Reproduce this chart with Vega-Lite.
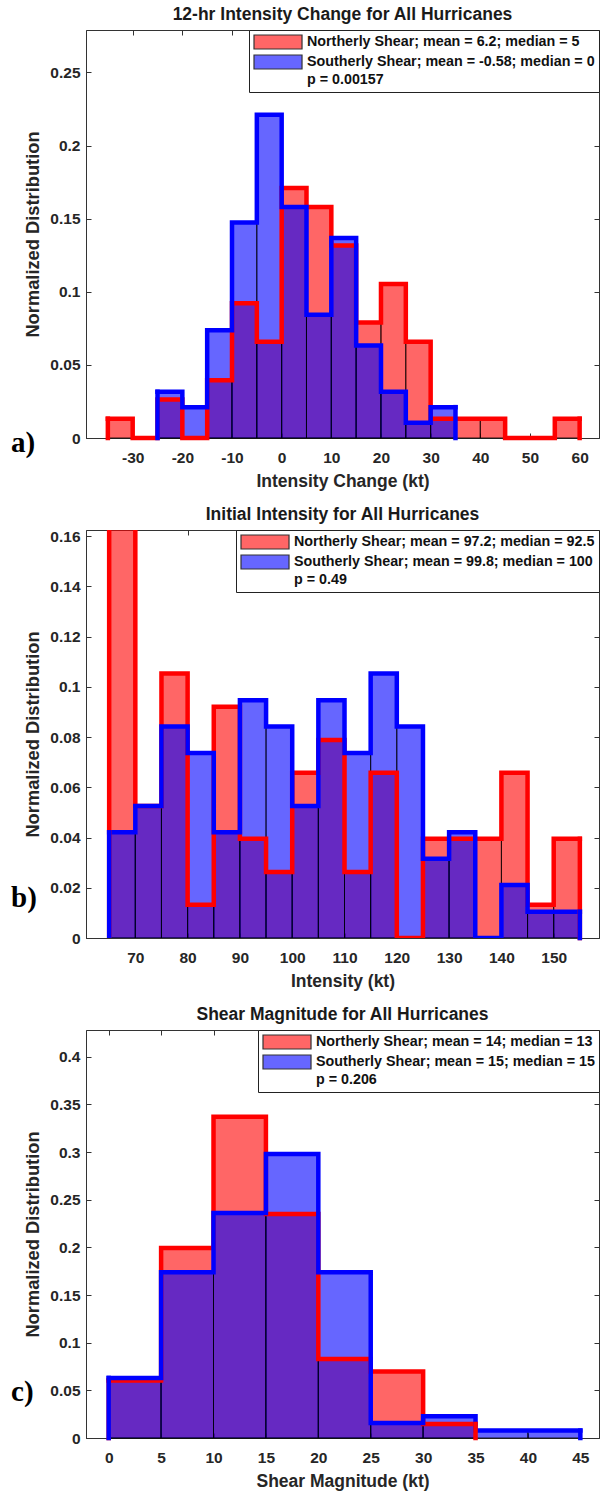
{
  "$schema": "https://vega.github.io/schema/vega-lite/v6.json",
  "padding": {"left": 10, "top": 5, "right": 2, "bottom": 0},
  "spacing": 14,
  "resolve": {
    "scale": {"color": "independent", "shape": "independent", "fill": "independent", "stroke": "independent"},
    "legend": {"color": "independent", "shape": "independent"}
  },
  "config": {
    "locale": {"number": {"decimal": ".", "thousands": ",", "grouping": [3], "currency": ["$", ""], "minus": "-"}},
    "view": {"stroke": "#333333", "strokeWidth": 1},
    "axis": {
      "labelFont": "Liberation Sans", "labelFontSize": 15.5, "labelFontWeight": "bold", "labelColor": "#262626",
      "titleFont": "Liberation Sans", "titleFontSize": 17.5, "titleFontWeight": "bold", "titleColor": "#262626",
      "grid": false, "domainColor": "#333333", "tickColor": "#333333", "tickSize": -5, "format": "~f"
    },
    "axisX": {"labelPadding": 17.6, "titlePadding": 6},
    "axisY": {"labelPadding": 11, "titlePadding": 7, "titleFontSize": 18.3},
    "title": {"font": "Liberation Sans", "fontSize": 17.5, "fontWeight": "bold", "color": "#1a1a1a", "offset": 6},
    "legend": {
      "orient": "top-right", "offset": 0, "title": null, "strokeColor": "#222222", "fillColor": "#ffffff",
      "padding": 4, "labelFont": "Liberation Sans", "labelFontSize": 14.3, "labelFontWeight": "bold", "labelColor": "#111111",
      "symbolSize": 196, "labelOffset": 38, "rowPadding": 0, "labelLimit": 600,
      "symbolStrokeWidth": 1.2
    }
  },
  "vconcat": [
    {
      "width": 513, "height": 408,
      "title": "12-hr Intensity Change for All Hurricanes",
      "resolve": {"axis": {"x": "independent", "y": "independent"}},
      "data": {"values": [
        {"s": "Northerly Shear", "x0": -35, "x1": -30, "v": 0.0132},
        {"s": "Northerly Shear", "x0": -30, "x1": -25, "v": 0},
        {"s": "Northerly Shear", "x0": -25, "x1": -20, "v": 0.0263},
        {"s": "Northerly Shear", "x0": -20, "x1": -15, "v": 0},
        {"s": "Northerly Shear", "x0": -15, "x1": -10, "v": 0.0395},
        {"s": "Northerly Shear", "x0": -10, "x1": -5, "v": 0.0921},
        {"s": "Northerly Shear", "x0": -5, "x1": 0, "v": 0.0658},
        {"s": "Northerly Shear", "x0": 0, "x1": 5, "v": 0.171},
        {"s": "Northerly Shear", "x0": 5, "x1": 10, "v": 0.1579},
        {"s": "Northerly Shear", "x0": 10, "x1": 15, "v": 0.1316},
        {"s": "Northerly Shear", "x0": 15, "x1": 20, "v": 0.0789},
        {"s": "Northerly Shear", "x0": 20, "x1": 25, "v": 0.1053},
        {"s": "Northerly Shear", "x0": 25, "x1": 30, "v": 0.0658},
        {"s": "Northerly Shear", "x0": 30, "x1": 35, "v": 0.0132},
        {"s": "Northerly Shear", "x0": 35, "x1": 40, "v": 0.0132},
        {"s": "Northerly Shear", "x0": 40, "x1": 45, "v": 0.0132},
        {"s": "Northerly Shear", "x0": 45, "x1": 50, "v": 0},
        {"s": "Northerly Shear", "x0": 50, "x1": 55, "v": 0},
        {"s": "Northerly Shear", "x0": 55, "x1": 60, "v": 0.0132},
        {"s": "Southerly Shear", "x0": -25, "x1": -20, "v": 0.0316},
        {"s": "Southerly Shear", "x0": -20, "x1": -15, "v": 0.0211},
        {"s": "Southerly Shear", "x0": -15, "x1": -10, "v": 0.0737},
        {"s": "Southerly Shear", "x0": -10, "x1": -5, "v": 0.1474},
        {"s": "Southerly Shear", "x0": -5, "x1": 0, "v": 0.2211},
        {"s": "Southerly Shear", "x0": 0, "x1": 5, "v": 0.1579},
        {"s": "Southerly Shear", "x0": 5, "x1": 10, "v": 0.0842},
        {"s": "Southerly Shear", "x0": 10, "x1": 15, "v": 0.1368},
        {"s": "Southerly Shear", "x0": 15, "x1": 20, "v": 0.0632},
        {"s": "Southerly Shear", "x0": 20, "x1": 25, "v": 0.0316},
        {"s": "Southerly Shear", "x0": 25, "x1": 30, "v": 0.0105},
        {"s": "Southerly Shear", "x0": 30, "x1": 35, "v": 0.0211}
      ]},
      "layer": [
        {
          "mark": {"type": "rect", "fillOpacity": 0.6, "stroke": "#000000", "strokeWidth": 0.8},
          "encoding": {
            "x": {"field": "x0", "type": "quantitative", "title": "Intensity Change (kt)",
                  "scale": {"domain": [-39.4, 63.9], "nice": false, "zero": false},
                  "axis": {"values": [-30, -20, -10, 0, 10, 20, 30, 40, 50, 60]}},
            "x2": {"field": "x1"},
            "y": {"field": "v", "type": "quantitative", "title": "Normalized Distribution",
                  "scale": {"domain": [0, 0.279], "nice": false},
                  "axis": {"values": [0, 0.05, 0.1, 0.15, 0.2, 0.25]}},
            "y2": {"datum": 0},
            "fill": {"field": "s", "type": "nominal", "scale": {"domain": ["Northerly Shear", "Southerly Shear"], "range": ["#ff0000", "#0000ff"]}, "legend": null}
          }
        },
        {
          "transform": [{"fold": ["x0", "x1"], "as": ["k", "xe"]}],
          "mark": {"type": "line", "strokeWidth": 4.5, "strokeJoin": "miter", "strokeCap": "square"},
          "encoding": {
            "x": {"field": "xe", "type": "quantitative", "axis": null},
            "y": {"field": "v", "type": "quantitative", "axis": null},
            "stroke": {"field": "s", "type": "nominal", "scale": {"domain": ["Northerly Shear", "Southerly Shear"], "range": ["#ff0000", "#0000ff"]}, "legend": null},
            "order": [{"field": "x0", "type": "quantitative"}, {"field": "k", "type": "ordinal"}]
          }
        },
        {
          "transform": [{"window": [{"op": "row_number", "as": "rn"}], "groupby": ["s"], "sort": [{"field": "x0", "order": "ascending"}]}, {"filter": "datum.rn == 1"}],
          "mark": {"type": "rule", "strokeWidth": 4.5, "strokeCap": "square"},
          "encoding": {
            "x": {"field": "x0", "type": "quantitative", "axis": null},
            "y": {"field": "v", "type": "quantitative", "axis": null}, "y2": {"datum": 0},
            "stroke": {"field": "s", "type": "nominal", "legend": null}
          }
        },
        {
          "transform": [{"window": [{"op": "row_number", "as": "rn"}], "groupby": ["s"], "sort": [{"field": "x0", "order": "descending"}]}, {"filter": "datum.rn == 1"}],
          "mark": {"type": "rule", "strokeWidth": 4.5, "strokeCap": "square"},
          "encoding": {
            "x": {"field": "x1", "type": "quantitative", "axis": null},
            "y": {"field": "v", "type": "quantitative", "axis": null}, "y2": {"datum": 0},
            "stroke": {"field": "s", "type": "nominal", "legend": null}
          }
        },
        {
          "data": {"values": []},
          "mark": {"type": "point", "filled": true, "opacity": 1, "stroke": "#333333", "strokeWidth": 1.2},
          "encoding": {
            "color": {"field": "s", "type": "nominal",
                      "scale": {"domain": ["Northerly Shear", "Southerly Shear", "p"], "range": ["#ff6666", "#6666ff", "#ffffff"]},
                      "legend": {"labelExpr": "datum.value == 'Northerly Shear' ? 'Northerly Shear; mean = 6.2; median = 5' : datum.value == 'Southerly Shear' ? 'Southerly Shear; mean = -0.58; median = 0' : 'p = 0.00157'"}},
            "shape": {"field": "s", "type": "nominal",
                      "scale": {"domain": ["Northerly Shear", "Southerly Shear", "p"], "range": ["M-1,-1H5.86V1H-1Z", "M-1,-1H5.86V1H-1Z", "M0,0L0,0"]},
                      "legend": {"labelExpr": "datum.value == 'Northerly Shear' ? 'Northerly Shear; mean = 6.2; median = 5' : datum.value == 'Southerly Shear' ? 'Southerly Shear; mean = -0.58; median = 0' : 'p = 0.00157'"}}
          }
        },
        {
          "data": {"values": [{"label": "a)"}]},
          "mark": {"type": "text", "font": "Liberation Serif", "fontSize": 29, "fontWeight": "bold", "align": "left", "baseline": "middle", "color": "#000000"},
          "encoding": {
            "x": {"datum": -54.5, "axis": {"orient": "top", "labels": false, "title": null, "domain": false, "values": [-30, -20, -10, 0, 10, 20, 30, 40, 50, 60]}},
            "y": {"datum": -0.0031, "axis": {"orient": "right", "labels": false, "title": null, "domain": false, "values": [0, 0.05, 0.1, 0.15, 0.2, 0.25]}},
            "text": {"field": "label"}
          }
        }
      ]
    },
    {
      "width": 513, "height": 408,
      "title": "Initial Intensity for All Hurricanes",
      "resolve": {"axis": {"x": "independent", "y": "independent"}},
      "data": {"values": [
        {"s": "Northerly Shear", "x0": 65, "x1": 70, "v": 0.197},
        {"s": "Northerly Shear", "x0": 70, "x1": 75, "v": 0.0526},
        {"s": "Northerly Shear", "x0": 75, "x1": 80, "v": 0.1053},
        {"s": "Northerly Shear", "x0": 80, "x1": 85, "v": 0.0132},
        {"s": "Northerly Shear", "x0": 85, "x1": 90, "v": 0.0921},
        {"s": "Northerly Shear", "x0": 90, "x1": 95, "v": 0.0395},
        {"s": "Northerly Shear", "x0": 95, "x1": 100, "v": 0.0263},
        {"s": "Northerly Shear", "x0": 100, "x1": 105, "v": 0.0658},
        {"s": "Northerly Shear", "x0": 105, "x1": 110, "v": 0.0789},
        {"s": "Northerly Shear", "x0": 110, "x1": 115, "v": 0.0263},
        {"s": "Northerly Shear", "x0": 115, "x1": 120, "v": 0.0658},
        {"s": "Northerly Shear", "x0": 120, "x1": 125, "v": 0},
        {"s": "Northerly Shear", "x0": 125, "x1": 130, "v": 0.0395},
        {"s": "Northerly Shear", "x0": 130, "x1": 135, "v": 0.0395},
        {"s": "Northerly Shear", "x0": 135, "x1": 140, "v": 0.0395},
        {"s": "Northerly Shear", "x0": 140, "x1": 145, "v": 0.0658},
        {"s": "Northerly Shear", "x0": 145, "x1": 150, "v": 0.0132},
        {"s": "Northerly Shear", "x0": 150, "x1": 155, "v": 0.0395},
        {"s": "Southerly Shear", "x0": 65, "x1": 70, "v": 0.0421},
        {"s": "Southerly Shear", "x0": 70, "x1": 75, "v": 0.0526},
        {"s": "Southerly Shear", "x0": 75, "x1": 80, "v": 0.0842},
        {"s": "Southerly Shear", "x0": 80, "x1": 85, "v": 0.0737},
        {"s": "Southerly Shear", "x0": 85, "x1": 90, "v": 0.0421},
        {"s": "Southerly Shear", "x0": 90, "x1": 95, "v": 0.0947},
        {"s": "Southerly Shear", "x0": 95, "x1": 100, "v": 0.0842},
        {"s": "Southerly Shear", "x0": 100, "x1": 105, "v": 0.0526},
        {"s": "Southerly Shear", "x0": 105, "x1": 110, "v": 0.0947},
        {"s": "Southerly Shear", "x0": 110, "x1": 115, "v": 0.0737},
        {"s": "Southerly Shear", "x0": 115, "x1": 120, "v": 0.1053},
        {"s": "Southerly Shear", "x0": 120, "x1": 125, "v": 0.0842},
        {"s": "Southerly Shear", "x0": 125, "x1": 130, "v": 0.0316},
        {"s": "Southerly Shear", "x0": 130, "x1": 135, "v": 0.0421},
        {"s": "Southerly Shear", "x0": 135, "x1": 140, "v": 0},
        {"s": "Southerly Shear", "x0": 140, "x1": 145, "v": 0.0211},
        {"s": "Southerly Shear", "x0": 145, "x1": 150, "v": 0.0105},
        {"s": "Southerly Shear", "x0": 150, "x1": 155, "v": 0.0105}
      ]},
      "layer": [
        {
          "mark": {"type": "rect", "fillOpacity": 0.6, "stroke": "#000000", "strokeWidth": 0.8, "clip": true},
          "encoding": {
            "x": {"field": "x0", "type": "quantitative", "title": "Intensity (kt)",
                  "scale": {"domain": [60.57, 158.66], "nice": false, "zero": false},
                  "axis": {"values": [70, 80, 90, 100, 110, 120, 130, 140, 150]}},
            "x2": {"field": "x1"},
            "y": {"field": "v", "type": "quantitative", "title": "Normalized Distribution",
                  "scale": {"domain": [0, 0.1625], "nice": false},
                  "axis": {"values": [0, 0.02, 0.04, 0.06, 0.08, 0.1, 0.12, 0.14, 0.16]}},
            "y2": {"datum": 0},
            "fill": {"field": "s", "type": "nominal", "scale": {"domain": ["Northerly Shear", "Southerly Shear"], "range": ["#ff0000", "#0000ff"]}, "legend": null}
          }
        },
        {
          "transform": [{"fold": ["x0", "x1"], "as": ["k", "xe"]}],
          "mark": {"type": "line", "strokeWidth": 4.5, "strokeJoin": "miter", "strokeCap": "square", "clip": true},
          "encoding": {
            "x": {"field": "xe", "type": "quantitative", "axis": null},
            "y": {"field": "v", "type": "quantitative", "axis": null},
            "stroke": {"field": "s", "type": "nominal", "scale": {"domain": ["Northerly Shear", "Southerly Shear"], "range": ["#ff0000", "#0000ff"]}, "legend": null},
            "order": [{"field": "x0", "type": "quantitative"}, {"field": "k", "type": "ordinal"}]
          }
        },
        {
          "transform": [{"window": [{"op": "row_number", "as": "rn"}], "groupby": ["s"], "sort": [{"field": "x0", "order": "ascending"}]}, {"filter": "datum.rn == 1"}],
          "mark": {"type": "rule", "strokeWidth": 4.5, "strokeCap": "square", "clip": true},
          "encoding": {
            "x": {"field": "x0", "type": "quantitative", "axis": null},
            "y": {"field": "v", "type": "quantitative", "axis": null}, "y2": {"datum": 0},
            "stroke": {"field": "s", "type": "nominal", "legend": null}
          }
        },
        {
          "transform": [{"window": [{"op": "row_number", "as": "rn"}], "groupby": ["s"], "sort": [{"field": "x0", "order": "descending"}]}, {"filter": "datum.rn == 1"}],
          "mark": {"type": "rule", "strokeWidth": 4.5, "strokeCap": "square"},
          "encoding": {
            "x": {"field": "x1", "type": "quantitative", "axis": null},
            "y": {"field": "v", "type": "quantitative", "axis": null}, "y2": {"datum": 0},
            "stroke": {"field": "s", "type": "nominal", "legend": null}
          }
        },
        {
          "data": {"values": []},
          "mark": {"type": "point", "filled": true, "opacity": 1, "stroke": "#333333", "strokeWidth": 1.2},
          "encoding": {
            "color": {"field": "s", "type": "nominal",
                      "scale": {"domain": ["Northerly Shear", "Southerly Shear", "p"], "range": ["#ff6666", "#6666ff", "#ffffff"]},
                      "legend": {"labelExpr": "datum.value == 'Northerly Shear' ? 'Northerly Shear; mean = 97.2; median = 92.5' : datum.value == 'Southerly Shear' ? 'Southerly Shear; mean = 99.8; median = 100' : 'p = 0.49'"}},
            "shape": {"field": "s", "type": "nominal",
                      "scale": {"domain": ["Northerly Shear", "Southerly Shear", "p"], "range": ["M-1,-1H5.86V1H-1Z", "M-1,-1H5.86V1H-1Z", "M0,0L0,0"]},
                      "legend": {"labelExpr": "datum.value == 'Northerly Shear' ? 'Northerly Shear; mean = 97.2; median = 92.5' : datum.value == 'Southerly Shear' ? 'Southerly Shear; mean = 99.8; median = 100' : 'p = 0.49'"}}
          }
        },
        {
          "data": {"values": [{"label": "b)"}]},
          "mark": {"type": "text", "font": "Liberation Serif", "fontSize": 29, "fontWeight": "bold", "align": "left", "baseline": "middle", "color": "#000000"},
          "encoding": {
            "x": {"datum": 46.23, "axis": {"orient": "top", "labels": false, "title": null, "domain": false, "values": [70, 80, 90, 100, 110, 120, 130, 140, 150]}},
            "y": {"datum": 0.0159, "axis": {"orient": "right", "labels": false, "title": null, "domain": false, "values": [0, 0.02, 0.04, 0.06, 0.08, 0.1, 0.12, 0.14, 0.16]}},
            "text": {"field": "label"}
          }
        }
      ]
    },
    {
      "width": 513, "height": 408,
      "title": "Shear Magnitude for All Hurricanes",
      "resolve": {"axis": {"x": "independent", "y": "independent"}},
      "data": {"values": [
        {"s": "Northerly Shear", "x0": 0, "x1": 5, "v": 0.0602},
        {"s": "Northerly Shear", "x0": 5, "x1": 10, "v": 0.1994},
        {"s": "Northerly Shear", "x0": 10, "x1": 15, "v": 0.337},
        {"s": "Northerly Shear", "x0": 15, "x1": 20, "v": 0.235},
        {"s": "Northerly Shear", "x0": 20, "x1": 25, "v": 0.0829},
        {"s": "Northerly Shear", "x0": 25, "x1": 30, "v": 0.0697},
        {"s": "Northerly Shear", "x0": 30, "x1": 35, "v": 0.0147},
        {"s": "Southerly Shear", "x0": 0, "x1": 5, "v": 0.063},
        {"s": "Southerly Shear", "x0": 5, "x1": 10, "v": 0.1739},
        {"s": "Southerly Shear", "x0": 10, "x1": 15, "v": 0.236},
        {"s": "Southerly Shear", "x0": 15, "x1": 20, "v": 0.298},
        {"s": "Southerly Shear", "x0": 20, "x1": 25, "v": 0.174},
        {"s": "Southerly Shear", "x0": 25, "x1": 30, "v": 0.0157},
        {"s": "Southerly Shear", "x0": 30, "x1": 35, "v": 0.0228},
        {"s": "Southerly Shear", "x0": 35, "x1": 40, "v": 0.0078},
        {"s": "Southerly Shear", "x0": 40, "x1": 45, "v": 0.0078}
      ]},
      "layer": [
        {
          "mark": {"type": "rect", "fillOpacity": 0.6, "stroke": "#000000", "strokeWidth": 0.8},
          "encoding": {
            "x": {"field": "x0", "type": "quantitative", "title": "Shear Magnitude (kt)",
                  "scale": {"domain": [-2.166, 46.78], "nice": false, "zero": false},
                  "axis": {"values": [0, 5, 10, 15, 20, 25, 30, 35, 40, 45]}},
            "x2": {"field": "x1"},
            "y": {"field": "v", "type": "quantitative", "title": "Normalized Distribution",
                  "scale": {"domain": [0, 0.428], "nice": false},
                  "axis": {"values": [0, 0.05, 0.1, 0.15, 0.2, 0.25, 0.3, 0.35, 0.4]}},
            "y2": {"datum": 0},
            "fill": {"field": "s", "type": "nominal", "scale": {"domain": ["Northerly Shear", "Southerly Shear"], "range": ["#ff0000", "#0000ff"]}, "legend": null}
          }
        },
        {
          "transform": [{"fold": ["x0", "x1"], "as": ["k", "xe"]}],
          "mark": {"type": "line", "strokeWidth": 4.5, "strokeJoin": "miter", "strokeCap": "square"},
          "encoding": {
            "x": {"field": "xe", "type": "quantitative", "axis": null},
            "y": {"field": "v", "type": "quantitative", "axis": null},
            "stroke": {"field": "s", "type": "nominal", "scale": {"domain": ["Northerly Shear", "Southerly Shear"], "range": ["#ff0000", "#0000ff"]}, "legend": null},
            "order": [{"field": "x0", "type": "quantitative"}, {"field": "k", "type": "ordinal"}]
          }
        },
        {
          "transform": [{"window": [{"op": "row_number", "as": "rn"}], "groupby": ["s"], "sort": [{"field": "x0", "order": "ascending"}]}, {"filter": "datum.rn == 1"}],
          "mark": {"type": "rule", "strokeWidth": 4.5, "strokeCap": "square"},
          "encoding": {
            "x": {"field": "x0", "type": "quantitative", "axis": null},
            "y": {"field": "v", "type": "quantitative", "axis": null}, "y2": {"datum": 0},
            "stroke": {"field": "s", "type": "nominal", "legend": null}
          }
        },
        {
          "transform": [{"window": [{"op": "row_number", "as": "rn"}], "groupby": ["s"], "sort": [{"field": "x0", "order": "descending"}]}, {"filter": "datum.rn == 1"}],
          "mark": {"type": "rule", "strokeWidth": 4.5, "strokeCap": "square"},
          "encoding": {
            "x": {"field": "x1", "type": "quantitative", "axis": null},
            "y": {"field": "v", "type": "quantitative", "axis": null}, "y2": {"datum": 0},
            "stroke": {"field": "s", "type": "nominal", "legend": null}
          }
        },
        {
          "data": {"values": []},
          "mark": {"type": "point", "filled": true, "opacity": 1, "stroke": "#333333", "strokeWidth": 1.2},
          "encoding": {
            "color": {"field": "s", "type": "nominal",
                      "scale": {"domain": ["Northerly Shear", "Southerly Shear", "p"], "range": ["#ff6666", "#6666ff", "#ffffff"]},
                      "legend": {"labelExpr": "datum.value == 'Northerly Shear' ? 'Northerly Shear; mean = 14; median = 13' : datum.value == 'Southerly Shear' ? 'Southerly Shear; mean = 15; median = 15' : 'p = 0.206'"}},
            "shape": {"field": "s", "type": "nominal",
                      "scale": {"domain": ["Northerly Shear", "Southerly Shear", "p"], "range": ["M-1,-1H5.86V1H-1Z", "M-1,-1H5.86V1H-1Z", "M0,0L0,0"]},
                      "legend": {"labelExpr": "datum.value == 'Northerly Shear' ? 'Northerly Shear; mean = 14; median = 13' : datum.value == 'Southerly Shear' ? 'Southerly Shear; mean = 15; median = 15' : 'p = 0.206'"}}
          }
        },
        {
          "data": {"values": [{"label": "c)"}]},
          "mark": {"type": "text", "font": "Liberation Serif", "fontSize": 29, "fontWeight": "bold", "align": "left", "baseline": "middle", "color": "#000000"},
          "encoding": {
            "x": {"datum": -9.32, "axis": {"orient": "top", "labels": false, "title": null, "domain": false, "values": [0, 5, 10, 15, 20, 25, 30, 35, 40, 45]}},
            "y": {"datum": 0.048, "axis": {"orient": "right", "labels": false, "title": null, "domain": false, "values": [0, 0.05, 0.1, 0.15, 0.2, 0.25, 0.3, 0.35, 0.4]}},
            "text": {"field": "label"}
          }
        }
      ]
    }
  ]
}
